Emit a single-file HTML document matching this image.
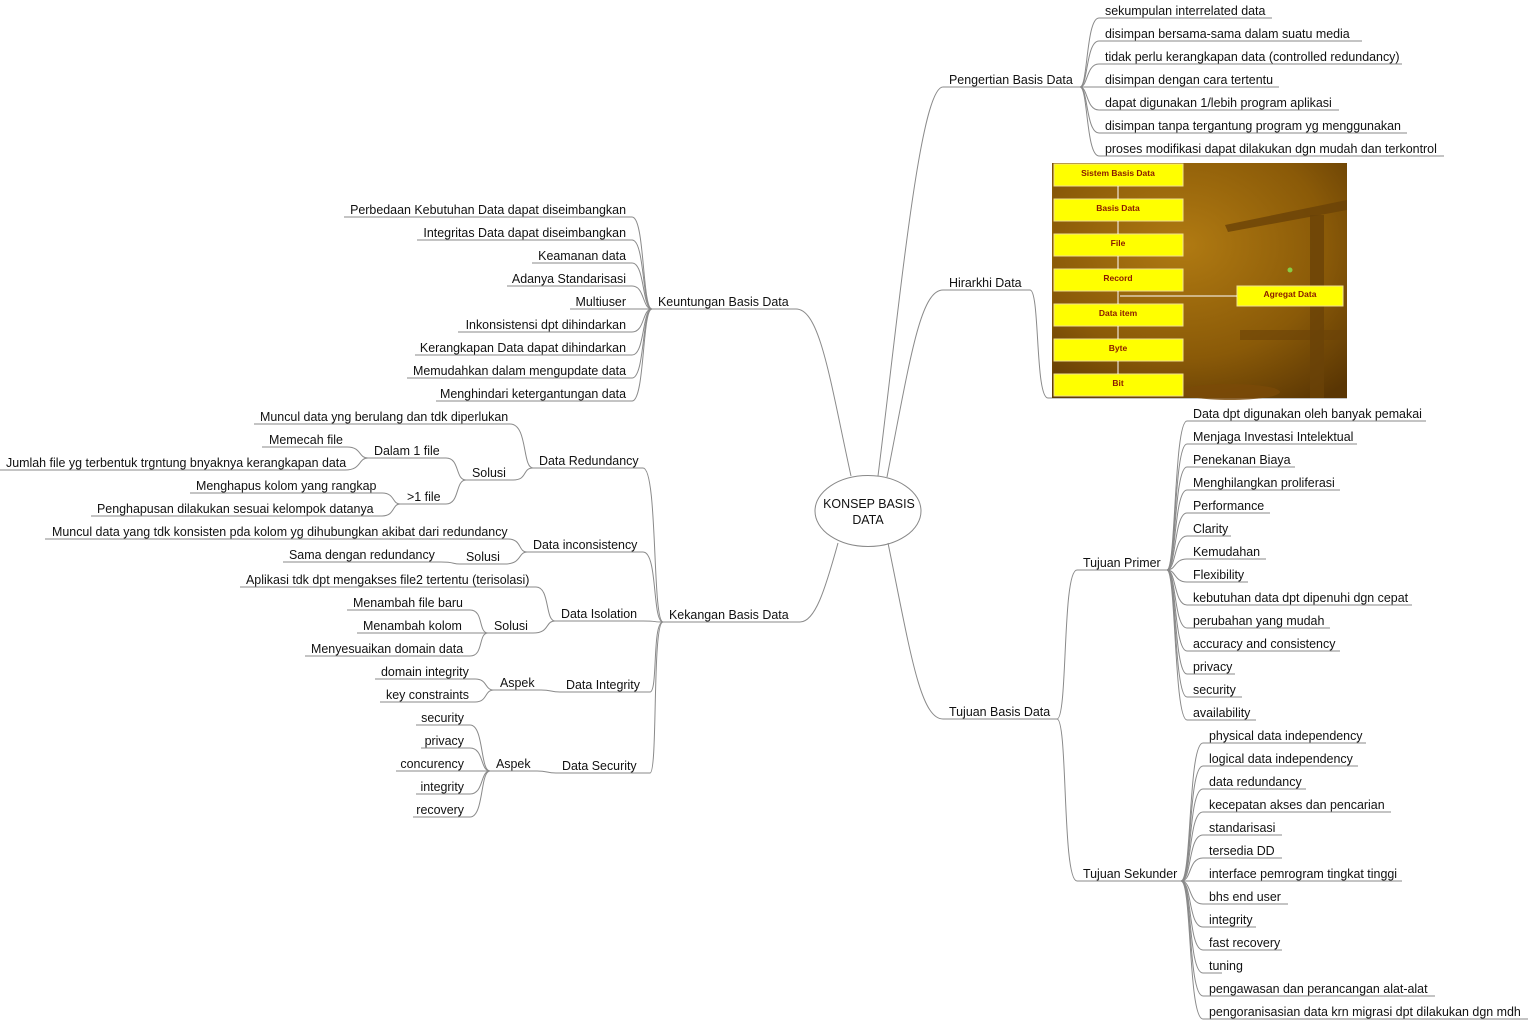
<!DOCTYPE html>
<html><head><meta charset="utf-8"><style>
html,body{margin:0;padding:0;background:#fff}
svg{display:block}
text{font-family:"Liberation Sans",Tahoma,sans-serif;font-size:12.45px;fill:#111}
.l{fill:none;stroke:#8a8a8a;stroke-width:1}
.b{font-size:8.5px;font-weight:bold;fill:#8a1a00;text-anchor:middle}
</style></head><body>
<svg width="1529" height="1021" viewBox="0 0 1529 1021" xmlns="http://www.w3.org/2000/svg">
<defs>
<radialGradient id="bg" cx="0.45" cy="0.35" r="0.8"><stop offset="0" stop-color="#b07a12"/><stop offset="0.6" stop-color="#8a5a08"/><stop offset="1" stop-color="#5a3604"/></radialGradient>
</defs>
<ellipse cx="868" cy="511" rx="53" ry="35.5" fill="#fff" stroke="#888"/>
<text x="869" y="508" text-anchor="middle">KONSEP BASIS</text>
<text x="868" y="524" text-anchor="middle">DATA</text>
<g class="l">
<path d="M878,476 C900,300 920,87 943,87"/>
<path d="M887,477 C910,360 920,290 943,290"/>
<path d="M888,543 C910,650 920,719 943,719"/>
<path d="M851,476 C830,380 820,309 796,309"/>
<path d="M838,543 C825,590 815,622 800,622"/>
<path d="M943,87 H1080 M943,290 H1030 M943,719 H1057 M652,309 H796 M663,622 H800"/>
<path d="M1080,87 C1088,87 1086,18 1099,18 H1272"/>
<path d="M1080,87 C1088,87 1086,41 1099,41 H1362"/>
<path d="M1080,87 C1088,87 1086,64 1099,64 H1402"/>
<path d="M1080,87 C1088,87 1086,87 1099,87 H1279"/>
<path d="M1080,87 C1088,87 1086,110 1099,110 H1339"/>
<path d="M1080,87 C1088,87 1086,133 1099,133 H1407"/>
<path d="M1080,87 C1088,87 1086,156 1099,156 H1444"/>
<path d="M1030,290 C1040,290 1035,398 1048,398 H1347"/>
<path d="M1057,719 C1068,719 1062,570 1077,570 H1167"/>
<path d="M1057,719 C1068,719 1062,881 1077,881 H1181"/>
<path d="M1167,570 C1176,570 1174,421 1187,421 H1426"/>
<path d="M1167,570 C1176,570 1174,444 1187,444 H1357"/>
<path d="M1167,570 C1176,570 1174,467 1187,467 H1295"/>
<path d="M1167,570 C1176,570 1174,490 1187,490 H1340"/>
<path d="M1167,570 C1176,570 1174,513 1187,513 H1270"/>
<path d="M1167,570 C1176,570 1174,536 1187,536 H1231"/>
<path d="M1167,570 C1176,570 1174,559 1187,559 H1266"/>
<path d="M1167,570 C1176,570 1174,582 1187,582 H1248"/>
<path d="M1167,570 C1176,570 1174,605 1187,605 H1412"/>
<path d="M1167,570 C1176,570 1174,628 1187,628 H1330"/>
<path d="M1167,570 C1176,570 1174,651 1187,651 H1340"/>
<path d="M1167,570 C1176,570 1174,674 1187,674 H1235"/>
<path d="M1167,570 C1176,570 1174,697 1187,697 H1242"/>
<path d="M1167,570 C1176,570 1174,720 1187,720 H1256"/>
<path d="M1181,881 C1192,881 1188,743 1203,743 H1366"/>
<path d="M1181,881 C1192,881 1188,766 1203,766 H1358"/>
<path d="M1181,881 C1192,881 1188,789 1203,789 H1306"/>
<path d="M1181,881 C1192,881 1188,812 1203,812 H1391"/>
<path d="M1181,881 C1192,881 1188,835 1203,835 H1282"/>
<path d="M1181,881 C1192,881 1188,858 1203,858 H1282"/>
<path d="M1181,881 C1192,881 1188,881 1203,881 H1402"/>
<path d="M1181,881 C1192,881 1188,904 1203,904 H1288"/>
<path d="M1181,881 C1192,881 1188,927 1203,927 H1256"/>
<path d="M1181,881 C1192,881 1188,950 1203,950 H1282"/>
<path d="M1181,881 C1192,881 1188,973 1203,973 H1222"/>
<path d="M1181,881 C1192,881 1188,996 1203,996 H1435"/>
<path d="M1181,881 C1192,881 1188,1019 1203,1019 H1528"/>
<path d="M652,309 C642,309 645,217 632,217 H344"/>
<path d="M652,309 C642,309 645,240 632,240 H417"/>
<path d="M652,309 C642,309 645,263 632,263 H532"/>
<path d="M652,309 C642,309 645,286 632,286 H507"/>
<path d="M652,309 C642,309 645,309 632,309 H570"/>
<path d="M652,309 C642,309 645,332 632,332 H458"/>
<path d="M652,309 C642,309 645,355 632,355 H415"/>
<path d="M652,309 C642,309 645,378 632,378 H407"/>
<path d="M652,309 C642,309 645,401 632,401 H436"/>
<path d="M663,622 C652,622 658,468 643,468 H533"/>
<path d="M663,622 C652,622 658,552 643,552 H527"/>
<path d="M663,622 C652,622 658,621 643,621 H555"/>
<path d="M663,622 C652,622 658,692 650,692 H560"/>
<path d="M663,622 C652,622 658,773 650,773 H556"/>
<path d="M533,468 C522,468 528,424 510,424 H254"/>
<path d="M533,468 C522,468 528,480 513,480 H466"/>
<path d="M466,480 C455,480 460,458 446,458 H368"/>
<path d="M466,480 C455,480 460,504 446,504 H400"/>
<path d="M368,458 C358,458 362,447 347,447 H262"/>
<path d="M368,458 C358,458 362,470 345,470 H0"/>
<path d="M400,504 C392,504 395,493 382,493 H190"/>
<path d="M400,504 C392,504 395,516 382,516 H91"/>
<path d="M527,552 C518,552 522,539 508,539 H45"/>
<path d="M527,552 C518,552 522,564 505,564 H460"/>
<path d="M460,564 C452,564 455,562 441,562 H283"/>
<path d="M555,621 C545,621 550,587 536,587 H240"/>
<path d="M555,621 C545,621 550,633 533,633 H488"/>
<path d="M488,633 C478,633 484,610 470,610 H347"/>
<path d="M488,633 C478,633 484,633 470,633 H357"/>
<path d="M488,633 C478,633 484,656 470,656 H305"/>
<path d="M560,692 C550,692 552,690 541,690 H494"/>
<path d="M494,690 C484,690 488,679 475,679 H375"/>
<path d="M494,690 C484,690 488,702 475,702 H380"/>
<path d="M556,773 C546,773 548,771 537,771 H490"/>
<path d="M490,771 C480,771 484,725 470,725 H416"/>
<path d="M490,771 C480,771 484,748 470,748 H421"/>
<path d="M490,771 C480,771 484,771 470,771 H396"/>
<path d="M490,771 C480,771 484,794 470,794 H416"/>
<path d="M490,771 C480,771 484,817 470,817 H413"/>
</g>
<text x="949" y="84">Pengertian Basis Data</text>
<text x="949" y="287">Hirarkhi Data</text>
<text x="949" y="716">Tujuan Basis Data</text>
<text x="658" y="306">Keuntungan Basis Data</text>
<text x="669" y="619">Kekangan Basis Data</text>
<text x="1105" y="15">sekumpulan interrelated data</text>
<text x="1105" y="38">disimpan bersama-sama dalam suatu media</text>
<text x="1105" y="61">tidak perlu kerangkapan data (controlled redundancy)</text>
<text x="1105" y="84">disimpan dengan cara tertentu</text>
<text x="1105" y="107">dapat digunakan 1/lebih program aplikasi</text>
<text x="1105" y="130">disimpan tanpa tergantung program yg menggunakan</text>
<text x="1105" y="153">proses modifikasi dapat dilakukan dgn mudah dan terkontrol</text>
<text x="1083" y="567">Tujuan Primer</text>
<text x="1083" y="878">Tujuan Sekunder</text>
<g>
<text x="1193" y="418">Data dpt digunakan oleh banyak pemakai</text>
<text x="1193" y="441">Menjaga Investasi Intelektual</text>
<text x="1193" y="464">Penekanan Biaya</text>
<text x="1193" y="487">Menghilangkan proliferasi</text>
<text x="1193" y="510">Performance</text>
<text x="1193" y="533">Clarity</text>
<text x="1193" y="556">Kemudahan</text>
<text x="1193" y="579">Flexibility</text>
<text x="1193" y="602">kebutuhan data dpt dipenuhi dgn cepat</text>
<text x="1193" y="625">perubahan yang mudah</text>
<text x="1193" y="648">accuracy and consistency</text>
<text x="1193" y="671">privacy</text>
<text x="1193" y="694">security</text>
<text x="1193" y="717">availability</text>
</g>
<g>
<text x="1209" y="740">physical data independency</text>
<text x="1209" y="763">logical data independency</text>
<text x="1209" y="786">data redundancy</text>
<text x="1209" y="809">kecepatan akses dan pencarian</text>
<text x="1209" y="832">standarisasi</text>
<text x="1209" y="855">tersedia DD</text>
<text x="1209" y="878">interface pemrogram tingkat tinggi</text>
<text x="1209" y="901">bhs end user</text>
<text x="1209" y="924">integrity</text>
<text x="1209" y="947">fast recovery</text>
<text x="1209" y="970">tuning</text>
<text x="1209" y="993">pengawasan dan perancangan alat-alat</text>
<text x="1209" y="1016">pengoranisasian data krn migrasi dpt dilakukan dgn mdh</text>
</g>
<g text-anchor="end">
<text x="626" y="214">Perbedaan Kebutuhan Data dapat diseimbangkan</text>
<text x="626" y="237">Integritas Data dapat diseimbangkan</text>
<text x="626" y="260">Keamanan data</text>
<text x="626" y="283">Adanya Standarisasi</text>
<text x="626" y="306">Multiuser</text>
<text x="626" y="329">Inkonsistensi dpt dihindarkan</text>
<text x="626" y="352">Kerangkapan Data dapat dihindarkan</text>
<text x="626" y="375">Memudahkan dalam mengupdate data</text>
<text x="626" y="398">Menghindari ketergantungan data</text>
</g>
<text x="539" y="465">Data Redundancy</text>
<text x="533" y="549">Data inconsistency</text>
<text x="561" y="618">Data Isolation</text>
<text x="566" y="689">Data Integrity</text>
<text x="562" y="770">Data Security</text>
<text x="260" y="421">Muncul data yng berulang dan tdk diperlukan</text>
<text x="472" y="477">Solusi</text>
<text x="374" y="455">Dalam 1 file</text>
<text x="407" y="501">&gt;1 file</text>
<text x="269" y="444">Memecah file</text>
<text x="6" y="467">Jumlah file yg terbentuk trgntung bnyaknya kerangkapan data</text>
<text x="196" y="490">Menghapus kolom yang rangkap</text>
<text x="97" y="513">Penghapusan dilakukan sesuai kelompok datanya</text>
<text x="52" y="536">Muncul data yang tdk konsisten pda kolom yg dihubungkan akibat dari redundancy</text>
<text x="466" y="561">Solusi</text>
<text x="289" y="559">Sama dengan redundancy</text>
<text x="246" y="584">Aplikasi tdk dpt mengakses file2 tertentu (terisolasi)</text>
<text x="494" y="630">Solusi</text>
<text x="353" y="607">Menambah file baru</text>
<text x="363" y="630">Menambah kolom</text>
<text x="311" y="653">Menyesuaikan domain data</text>
<text x="500" y="687">Aspek</text>
<text x="381" y="676">domain integrity</text>
<text x="386" y="699">key constraints</text>
<text x="496" y="768">Aspek</text>
<g text-anchor="end">
<text x="464" y="722">security</text>
<text x="464" y="745">privacy</text>
<text x="464" y="768">concurency</text>
<text x="464" y="791">integrity</text>
<text x="464" y="814">recovery</text>
</g>
<rect x="1052" y="163" width="295" height="235" fill="url(#bg)"/>
<path d="M1225,225 L1347,200 L1347,210 L1228,232 Z" fill="#6a4208" opacity="0.8"/>
<rect x="1310" y="215" width="14" height="183" fill="#6a4208" opacity="0.8"/>
<path d="M1240,330 L1347,330 L1347,340 L1240,340 Z" fill="#6a4208" opacity="0.6"/>
<ellipse cx="1230" cy="392" rx="50" ry="8" fill="#7a4a08" opacity="0.8"/>
<g fill="#ffff00" stroke="#f0e090" stroke-width="1">
<rect x="1054" y="164" width="129" height="22"/>
<rect x="1054" y="199" width="129" height="22"/>
<rect x="1054" y="234" width="129" height="22"/>
<rect x="1054" y="269" width="129" height="22"/>
<rect x="1054" y="304" width="129" height="22"/>
<rect x="1054" y="339" width="129" height="22"/>
<rect x="1054" y="374" width="129" height="22"/>
<rect x="1237" y="286" width="106" height="20"/>
</g>
<g stroke="#fff" stroke-width="1">
<path d="M1118,186 V199 M1118,221 V234 M1118,256 V269 M1118,291 V304 M1118,326 V339 M1118,361 V374 M1237,296 H1120"/>
</g>
<circle cx="1290" cy="270" r="2.5" fill="#8c4"/>
<text class="b" x="1118" y="176">Sistem Basis Data</text>
<text class="b" x="1118" y="211">Basis Data</text>
<text class="b" x="1118" y="246">File</text>
<text class="b" x="1118" y="281">Record</text>
<text class="b" x="1118" y="316">Data item</text>
<text class="b" x="1118" y="351">Byte</text>
<text class="b" x="1118" y="386">Bit</text>
<text class="b" x="1290" y="297">Agregat Data</text>
</svg>
</body></html>
